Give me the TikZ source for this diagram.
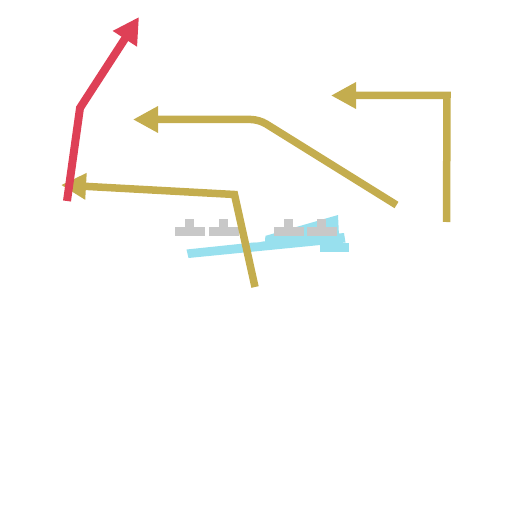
\documentclass[tikz,border=0pt]{standalone}
\usetikzlibrary{arrows.meta}
\definecolor{gold}{HTML}{C4AD4E}
\definecolor{rosered}{HTML}{DE4056}
\definecolor{skycyan}{HTML}{98E0EE}
\definecolor{railgray}{HTML}{C8C8C8}
\tikzset{
  goldline/.style={draw=gold,line width=7.5bp,-{Triangle[length=25bp,width=25bp]}},
  redline/.style={draw=rosered,line width=8bp,-{Triangle[length=26bp,width=27bp]}},
  cyanfill/.style={fill=skycyan,draw=none},
  grayfill/.style={fill=railgray,draw=none},
}
\begin{document}
\begin{tikzpicture}[x=1bp,y=-1bp]
\useasboundingbox (0,0) rectangle (512,512);
% cyan shapes
\fill[skycyan] (186.5,249.5) -- (344,233) -- (345.5,242.5) -- (188.5,258) -- cycle;
\fill[skycyan] (265,236) -- (338,215) -- (339,236) -- (265,242) -- cycle;
\fill[skycyan] (319.5,243) rectangle (348.5,252);
\fill[white] (256.5,236.5) ellipse (9 and 6);
% gray T markers
\foreach \x in {175,209,274,307}{
  \fill[railgray] (\x,227) rectangle ++(30,8.5);
  \fill[railgray] (\x+10,218.5) rectangle ++(8.5,9);
}
% gold connectors
\coordinate (a1) at (255,287);
\coordinate (a2) at (234.5,194.5);
\coordinate (a3) at (61,185);
\draw[goldline] (a1) -- (a2) -- (a3);
\coordinate (b1) at (396.5,205);
\coordinate (b2) at (259,119.5);
\coordinate (b3) at (133,119.5);
\draw[goldline,rounded corners=8bp] (b1) -- (b2) -- (b3);
\coordinate (c1) at (446.5,222);
\coordinate (c2) at (447,95.5);
\coordinate (c3) at (331,95.5);
\draw[goldline] (c1) -- (c2) -- (c3);
% red connector
\coordinate (r1) at (67,201);
\coordinate (r2) at (80,108);
\coordinate (r3) at (139,17);
\draw[redline] (r1) -- (r2) -- (r3);
\end{tikzpicture}
\end{document}
